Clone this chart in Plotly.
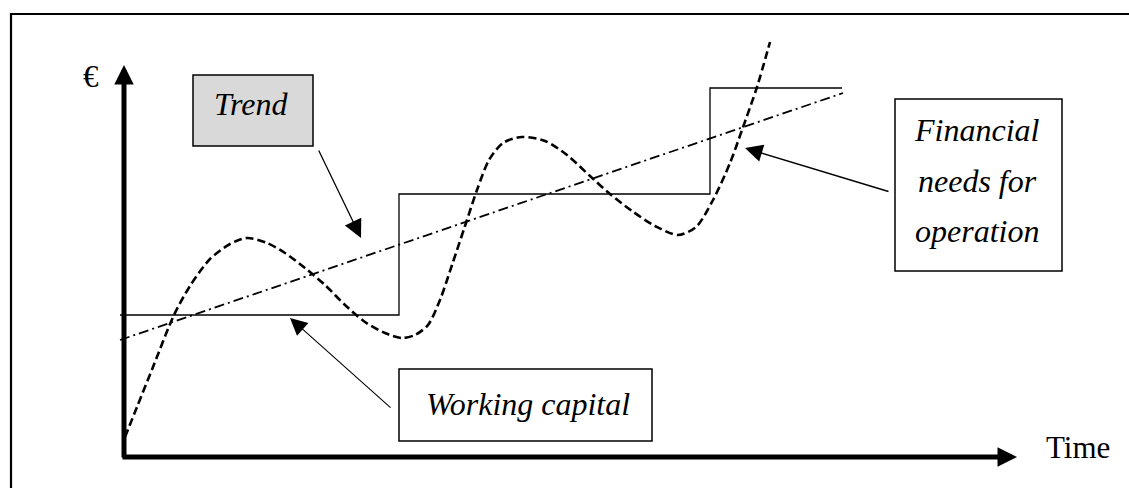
import plotly.graph_objects as go

# Coordinate system: time t (x) and value v (y), origin at axes corner
# Financial needs for operation (dashed curve)
need_t = [1, 13, 29, 50, 66, 86, 106, 123, 143, 161, 181, 201, 221, 241, 261, 278, 291, 304, 316,
          328, 341, 353, 365, 379, 398, 421, 443, 466, 486, 508, 531, 554, 572, 589, 606, 618, 633, 646]
need_v = [20, 50, 90, 142, 171, 198, 213, 219, 214, 204, 189, 172, 152, 135, 124, 119, 122, 132, 157,
          192, 231, 267, 297, 314, 320, 316, 302, 281, 263, 246, 231, 222, 230, 257, 294, 327, 370, 415]

# Working capital (step line)
wc_t = [-4, 275, 586, 718]
wc_v = [142, 263, 369, 369]

# Trend (dash-dot line)
trend_t = [-4, 719]
trend_v = [117, 364]

X0, Y0 = 124, 457  # pixel position of origin


def px(x):
    return x - X0


def py(y):
    return Y0 - y


FONT = "Liberation Serif"

fig = go.Figure()
fig.add_trace(go.Scatter(x=wc_t, y=wc_v, mode="lines", line=dict(color="black", width=1.3, shape="hv"),
                         hoverinfo="skip", showlegend=False))
fig.add_trace(go.Scatter(x=trend_t, y=trend_v, mode="lines",
                         line=dict(color="black", width=1.8, dash="10px,4px,2px,4px"),
                         hoverinfo="skip", showlegend=False))
fig.add_trace(go.Scatter(x=need_t, y=need_v, mode="lines",
                         line=dict(color="black", width=2.6, dash="8px,4px", shape="spline", smoothing=0.8),
                         hoverinfo="skip", showlegend=False))

shapes = [
    # outer frame
    dict(type="rect", xref="x", yref="y", x0=px(11), x1=px(1140), y0=py(14), y1=py(500),
         line=dict(color="black", width=2.2)),
    # Trend box
    dict(type="rect", xref="x", yref="y", x0=px(193), x1=px(313), y0=py(75), y1=py(146),
         line=dict(color="black", width=1.5), fillcolor="#d9d9d9", layer="below"),
    # Financial needs box
    dict(type="rect", xref="x", yref="y", x0=px(895), x1=px(1062), y0=py(99), y1=py(271),
         line=dict(color="black", width=1.5), fillcolor="white"),
    # Working capital box
    dict(type="rect", xref="x", yref="y", x0=px(399), x1=px(652), y0=py(369), y1=py(441),
         line=dict(color="black", width=1.5), fillcolor="white"),
]

annotations = []


def arrow(tail, tip, width, size):
    annotations.append(dict(x=px(tip[0]), y=py(tip[1]), ax=px(tail[0]), ay=py(tail[1]),
                            xref="x", yref="y", axref="x", ayref="y", text="",
                            showarrow=True, arrowhead=2, arrowsize=size, arrowwidth=width,
                            arrowcolor="black", standoff=0, startstandoff=0))


# axes
arrow((124, 459), (124, 65), 5, 0.78)
arrow((121, 457), (1017, 457), 5, 0.78)
# pointer arrows
arrow((318, 149), (361, 238), 1.3, 2.8)
arrow((392, 409), (290, 318), 1.1, 3.1)
arrow((890, 192), (745, 148), 1.4, 2.5)


def label(text, x, y, italic=True, size=32):
    annotations.append(dict(x=px(x), y=py(y), xref="x", yref="y", text=text, showarrow=False,
                            font=dict(family=FONT, size=size, color="black",
                                      style="italic" if italic else "normal")))


label("€", 91, 76, italic=False, size=31)
label("Time", 1078, 447, italic=False, size=31)
label("Trend", 251, 104)
label("Working capital", 528, 404)
label("Financial", 977, 130)
label("needs for", 977, 181)
label("operation", 977, 231)

fig.update_layout(
    width=1129, height=488, margin=dict(l=0, r=0, t=0, b=0),
    paper_bgcolor="white", plot_bgcolor="white",
    xaxis=dict(range=[-X0, 1129 - X0], visible=False, fixedrange=True),
    yaxis=dict(range=[Y0 - 488, Y0], visible=False, fixedrange=True),
    shapes=shapes, annotations=annotations, showlegend=False,
)

fig.write_html("out.html", config={"displayModeBar": False},
               post_script="document.body.style.margin='0';document.body.style.overflow='hidden';")
